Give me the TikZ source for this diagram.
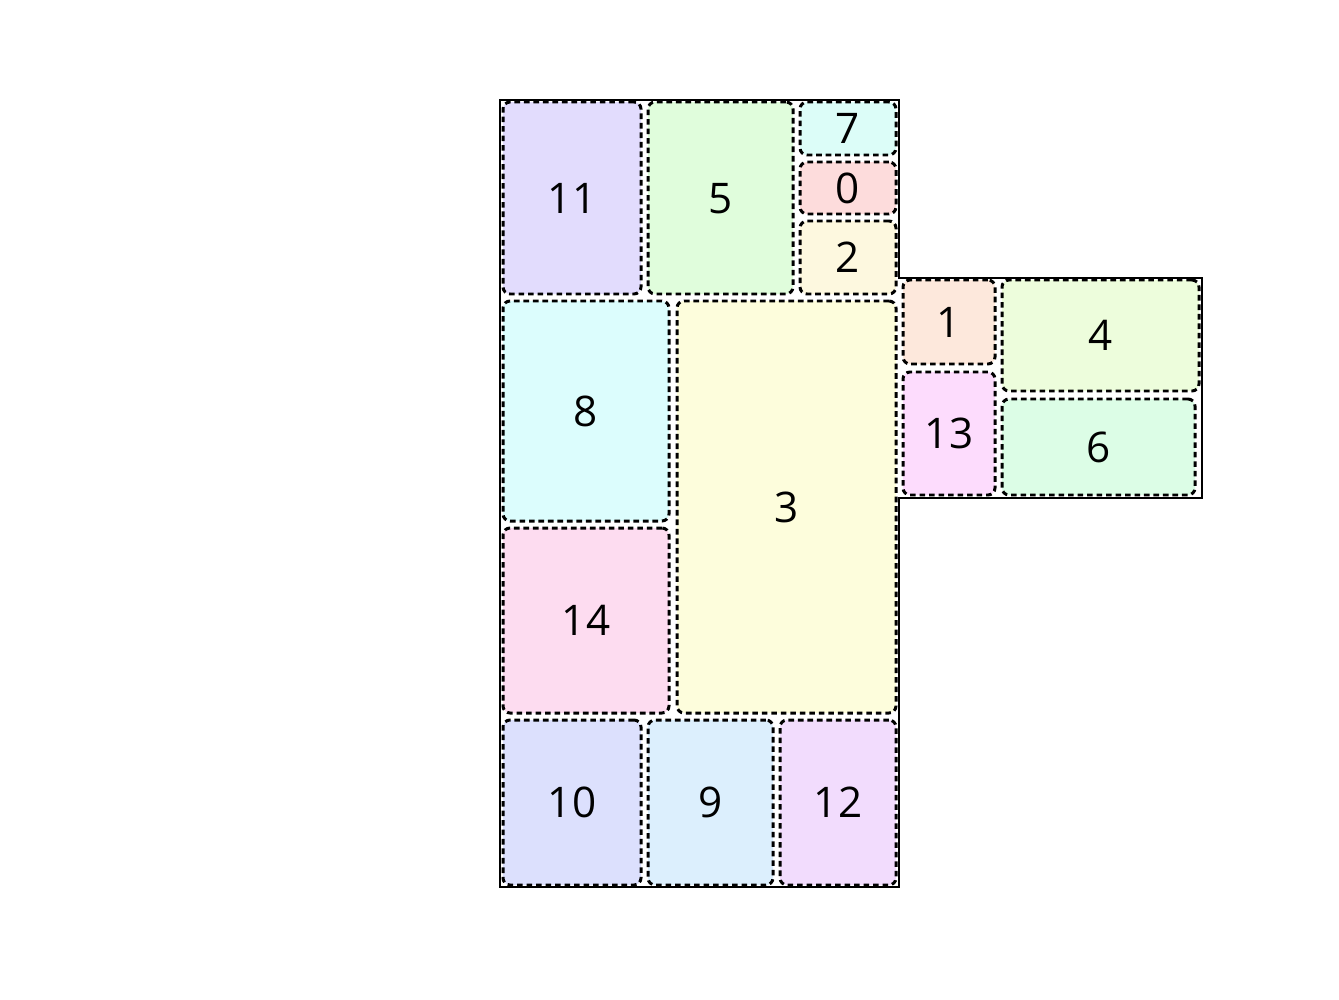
\documentclass[tikz,border=0pt]{standalone}
\usepackage{fontspec}
\setmainfont{Open Sans}
\usepackage{tikz}
\usetikzlibrary{calc}

\definecolor{cZero}{HTML}{FDDCDC}
\definecolor{cOne}{HTML}{FDE8DC}
\definecolor{cTwo}{HTML}{FDF8DF}
\definecolor{cThree}{HTML}{FDFDDC}
\definecolor{cFour}{HTML}{EDFDDC}
\definecolor{cFive}{HTML}{E0FDDC}
\definecolor{cSix}{HTML}{DCFDE6}
\definecolor{cSeven}{HTML}{DCFDF8}
\definecolor{cEight}{HTML}{DCFDFD}
\definecolor{cNine}{HTML}{DCEFFD}
\definecolor{cTen}{HTML}{DCE0FD}
\definecolor{cEleven}{HTML}{E2DCFD}
\definecolor{cTwelve}{HTML}{F2DCFD}
\definecolor{cThirteen}{HTML}{FDDCFD}
\definecolor{cFourteen}{HTML}{FDDCF0}

\tikzset{
  room/.style={draw=black,line width=0.85pt,dash pattern=on 1.6pt off 1.1pt,
    rounded corners=2pt,inner sep=0pt,text depth=0pt,
    font=\fontsize{12}{14}\selectfont},
  outline/.style={draw=black,line width=0.35pt}
}
\newcommand{\roomnode}[7]{\node[room,fill=#6,minimum width=#4*0.01cm,minimum height=#5*0.01cm] (#1) at (#2,#3) {#7};}

\begin{document}
\begin{tikzpicture}[x=0.01cm,y=-0.01cm]
			\useasboundingbox (0,0) rectangle (1339,1000);
			%print outline of the plan
			\coordinate (A) at (500,100);
			\coordinate (B) at (899,100);
			\coordinate (C) at (899,278);
			\coordinate (D) at (1202,278);
			\coordinate (E) at (1202,498);
			\coordinate (F) at (899,498);
			\coordinate (G) at (899,887);
			\coordinate (H) at (500,887);
			\draw[outline] (A)--(B)--(C)--(D)--(E)--(F)--(G)--(H)--cycle;
			%top row
			\roomnode{r11}{572}{198}{138}{192}{cEleven}{11}
			\roomnode{r5}{720.5}{198}{145}{192}{cFive}{5}
			\roomnode{r7}{848}{128.5}{96}{53}{cSeven}{7}
			\roomnode{r0}{848}{188}{96}{52}{cZero}{0}
			\roomnode{r2}{848}{257.5}{96}{73}{cTwo}{2}
			%middle part
			\roomnode{r8}{586}{411}{166}{220}{cEight}{8}
			\roomnode{r3}{786.5}{507}{219}{412}{cThree}{3}
			\roomnode{r14}{586}{620.5}{166}{185}{cFourteen}{14}
			%bottom row
			\roomnode{r10}{572}{802.5}{138}{165}{cTen}{10}
			\roomnode{r9}{710.5}{802.5}{125}{165}{cNine}{9}
			\roomnode{r12}{838}{802.5}{116}{165}{cTwelve}{12}
			%right wing
			\roomnode{r1}{949}{322}{92}{84}{cOne}{1}
			\roomnode{r13}{949}{433.5}{92}{123}{cThirteen}{13}
			\roomnode{r4}{1100.5}{335.5}{197}{111}{cFour}{4}
			\roomnode{r6}{1098.5}{447}{193}{96}{cSix}{6}
		\end{tikzpicture}
\end{document}
